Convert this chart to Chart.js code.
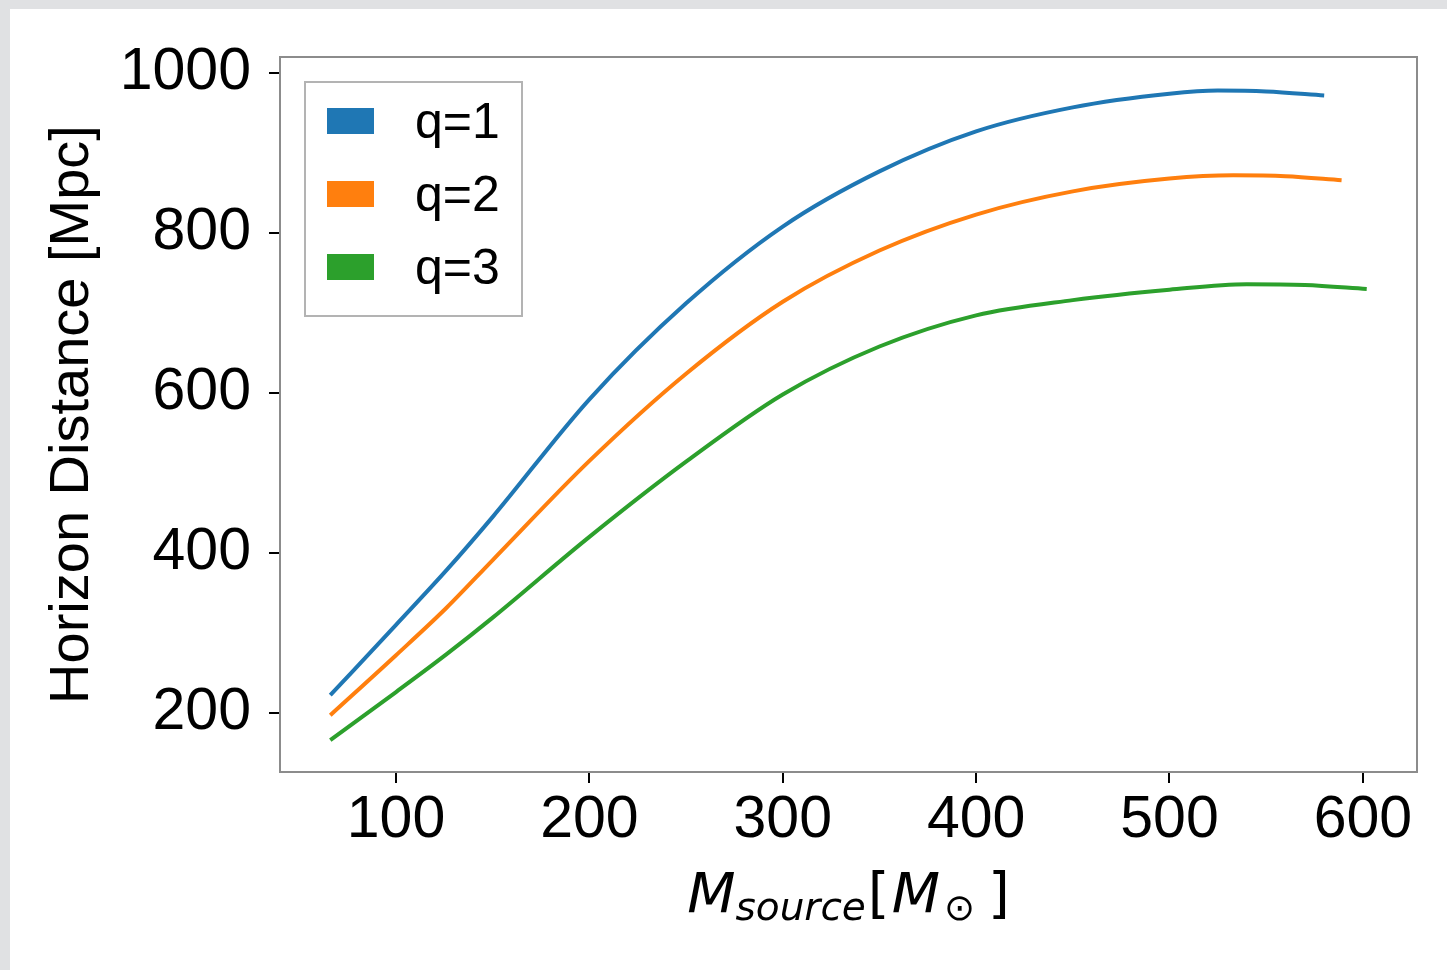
<!DOCTYPE html>
<html>
<head>
<meta charset="utf-8">
<script src="https://cdn.jsdelivr.net/npm/chart.js@4"></script>
<style>
  html, body { margin: 0; padding: 0; background: #e0e1e3; }
  #wrap { position: absolute; left: 0; top: 0; width: 1447px; height: 970px; }
</style>
</head>
<body>
<div id="wrap"><canvas id="chart" width="1447" height="970"></canvas></div>
<script>
// data
const massQ1 = [66, 100, 126, 150, 200, 250, 300, 350, 400, 450, 500, 525, 550, 580];
const distQ1 = [222, 310, 378, 445, 592, 712, 808, 877, 927, 957, 974, 978, 977, 972];
const massQ2 = [66, 100, 126, 150, 200, 250, 300, 350, 400, 450, 500, 533, 560, 589];
const distQ2 = [197, 272, 331, 391, 515, 624, 714, 778, 823, 852, 868, 872, 871, 866];
const massQ3 = [66, 100, 126, 150, 200, 250, 300, 350, 400, 450, 500, 540, 570, 602];
const distQ3 = [166, 226, 273, 319, 420, 514, 598, 658, 697, 716, 729, 736, 735, 730];
const labels = ['q=1', 'q=2', 'q=3'];
const colors = ['#1f77b4', '#ff7f0e', '#2ca02c'];
const xTicks = [100, 200, 300, 400, 500, 600];
const yTicks = [200, 400, 600, 800, 1000];

const FONT = '"Liberation Sans", Arial, sans-serif';
const toPts = (xs, ys) => xs.map((x, i) => ({ x, y: ys[i] }));

const bgPlugin = {
  id: 'bg',
  beforeDraw(c) {
    const g = c.ctx;
    g.save();
    g.fillStyle = '#e0e1e3';
    g.fillRect(0, 0, c.width, c.height);
    g.fillStyle = '#ffffff';
    g.fillRect(10, 9, c.width - 10, c.height - 9);
    g.restore();
  }
};

const framePlugin = {
  id: 'frame',
  afterDraw(c) {
    const a = c.chartArea, g = c.ctx;
    g.save();
    g.strokeStyle = '#8c8c8c';
    g.lineWidth = 2;
    g.strokeRect(a.left, a.top, a.right - a.left, a.bottom - a.top);
    g.restore();
  }
};

const legendPlugin = {
  id: 'boxLegend',
  afterDraw(c) {
    const a = c.chartArea, g = c.ctx;
    const x0 = a.left + 25, y0 = a.top + 25;
    g.save();
    g.strokeStyle = '#b3b3b3';
    g.lineWidth = 2;
    g.strokeRect(x0, y0, 217, 234);
    g.font = '50px ' + FONT;
    g.textBaseline = 'middle';
    c.data.datasets.forEach((ds, i) => {
      const cy = y0 + 39 + i * 73;
      g.fillStyle = ds.borderColor;
      g.fillRect(x0 + 22, cy - 13, 47, 26);
      g.fillStyle = '#000';
      g.fillText(ds.label, x0 + 110, cy + 3);
    });
    g.restore();
  }
};

const xTitlePlugin = {
  id: 'xTitle',
  afterDraw(c) {
    const a = c.chartArea, g = c.ctx;
    const big = 'italic 56px "DejaVu Sans"';
    const sub = 'italic 39px "DejaVu Sans"';
    const up = '56px "DejaVu Sans"';
    const upSub = '37px "DejaVu Sans"';
    const parts = [
      { t: 'M', f: big, dy: 0, gap: 0 },
      { t: 'source', f: sub, dy: 8, gap: 2 },
      { t: '[', f: up, dy: 0, gap: 2 },
      { t: 'M', f: big, dy: 0, gap: 4 },
      { t: '\u2299', f: upSub, dy: 8, gap: 13 },
      { t: ']', f: up, dy: 0, gap: 0 }
    ];
    g.save();
    let total = 0;
    parts.forEach(p => { g.font = p.f; p.w = g.measureText(p.t).width; total += p.w + p.gap; });
    let x = (a.left + a.right) / 2 - total / 2;
    const base = 912;
    g.fillStyle = '#000';
    g.textBaseline = 'alphabetic';
    parts.forEach(p => { g.font = p.f; g.fillText(p.t, x, base + p.dy); x += p.w + p.gap; });
    g.restore();
  }
};

new Chart(document.getElementById('chart'), {
  type: 'line',
  data: {
    datasets: [
      { label: labels[0], data: toPts(massQ1, distQ1), borderColor: colors[0] },
      { label: labels[1], data: toPts(massQ2, distQ2), borderColor: colors[1] },
      { label: labels[2], data: toPts(massQ3, distQ3), borderColor: colors[2] }
    ]
  },
  options: {
    responsive: false,
    animation: false,
    layout: { padding: { left: 0, top: 57, right: 30, bottom: 0 } },
    elements: {
      point: { radius: 0 },
      line: { borderWidth: 4, cubicInterpolationMode: 'monotone', fill: false }
    },
    plugins: { legend: { display: false }, tooltip: { enabled: false } },
    scales: {
      x: {
        type: 'linear', min: 40, max: 628,
        afterBuildTicks: s => { s.ticks = xTicks.map(v => ({ value: v })); },
        afterFit: s => { s.height = 198; },
        border: { display: false },
        grid: { drawOnChartArea: false, tickLength: 11, tickColor: '#000', lineWidth: 2 },
        ticks: { color: '#000', font: { family: FONT, size: 59 }, padding: 2, maxRotation: 0, callback: v => String(v) }
      },
      y: {
        type: 'linear', min: 126, max: 1020,
        afterBuildTicks: s => { s.ticks = yTicks.map(v => ({ value: v })); },
        afterFit: s => { s.width = 280; },
        border: { display: false },
        grid: { drawOnChartArea: false, tickLength: 11, tickColor: '#000', lineWidth: 2 },
        ticks: { color: '#000', font: { family: FONT, size: 59 }, padding: 18, callback: v => String(v) },
        title: {
          display: true, text: 'Horizon Distance [Mpc]', color: '#000',
          font: { family: FONT, size: 56 }, padding: { top: 39, bottom: 0 }
        }
      }
    }
  },
  plugins: [bgPlugin, framePlugin, legendPlugin, xTitlePlugin]
});
</script>
</body>
</html>
